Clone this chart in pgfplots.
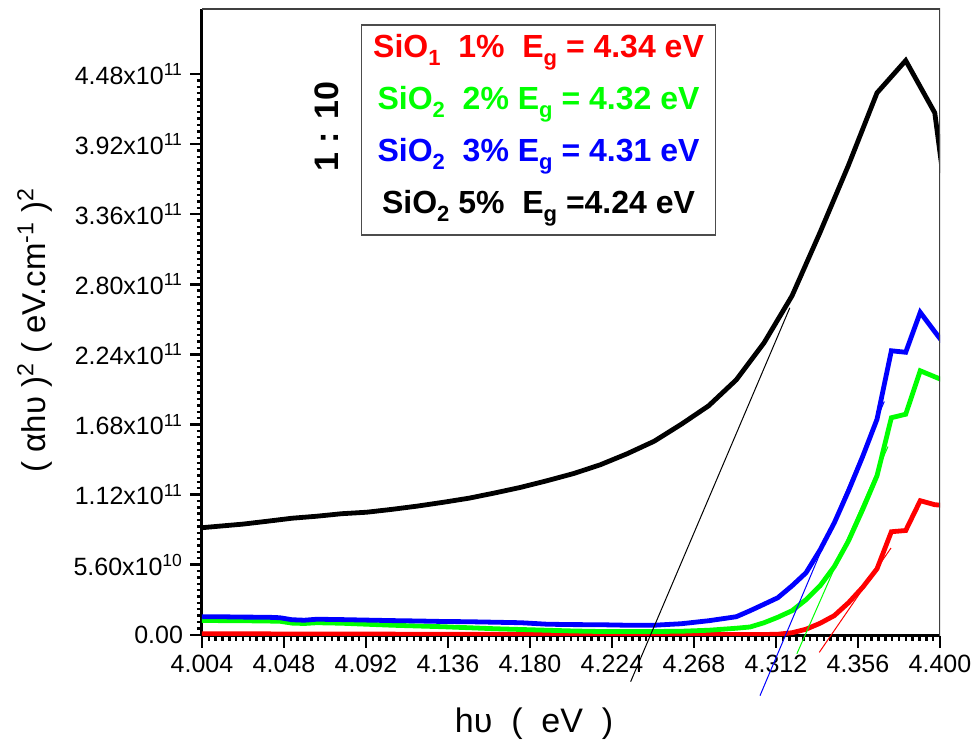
\documentclass[border=0pt]{standalone}
\usepackage{fontspec}
\setmainfont{Liberation Sans}
\usepackage{pgfplots}
\pgfplotsset{compat=1.18}
\definecolor{cred}{RGB}{255,0,0}
\definecolor{cgreen}{RGB}{0,255,0}
\definecolor{cblue}{RGB}{0,0,255}
\newcommand{\lsub}[1]{\raisebox{-0.45ex}{\fontsize{11}{11}\selectfont #1}}

\begin{document}
\begin{tikzpicture}
% page = 977x747 px at 0.5pt per px
\useasboundingbox (-101pt,-55.5pt) rectangle (387.5pt,318pt);
\begin{axis}[
    at={(0,0)}, anchor=south west,
    scale only axis, width=369pt, height=313.5pt,
    xmin=4.004, xmax=4.400, ymin=-1e9, ymax=5.0e11,
    axis lines=left, axis line style={-, line width=1.5pt},
    tick align=outside,
    major tick length=6pt, minor tick length=2.5pt,
    every tick/.style={black, line width=1.2pt},
    xtick={4.004,4.048,4.092,4.136,4.180,4.224,4.268,4.312,4.356,4.400},
    xticklabels={4.004,4.048,4.092,4.136,4.180,4.224,4.268,4.312,4.356,4.400},
    minor x tick num=11,
    ytick={0,5.6e10,1.12e11,1.68e11,2.24e11,2.80e11,3.36e11,3.92e11,4.48e11},
    yticklabels={0.00,5.60x10\textsuperscript{10},1.12x10\textsuperscript{11},
        1.68x10\textsuperscript{11},2.24x10\textsuperscript{11},2.80x10\textsuperscript{11},
        3.36x10\textsuperscript{11},3.92x10\textsuperscript{11},4.48x10\textsuperscript{11}},
    minor y tick num=10,
    scaled y ticks=false,
    tick label style={font=\fontsize{12.5}{14}\selectfont},
    xlabel={hυ\ \ (\ \ eV\ \ )},
    ylabel={(\ αhυ\ )\textsuperscript{2}\ (\ eV.cm\textsuperscript{-1}\ )\textsuperscript{2}},
    xlabel style={at={(axis description cs:0.45,-0.1404)}, anchor=center,
        font=\fontsize{17}{20}\selectfont},
    ylabel style={at={(axis description cs:-0.2263,0.488)}, anchor=center, rotate=0,
        font=\fontsize{16.5}{20}\selectfont},
]
% SiO2 5%
\addplot[black, line width=2.4pt] coordinates {
(4.0000,8.50e10) (4.0129,8.67e10) (4.0260,8.84e10) (4.0391,9.07e10) (4.0523,9.31e10)
(4.0656,9.47e10) (4.0789,9.67e10) (4.0924,9.79e10) (4.1060,10.02e10) (4.1196,10.28e10)
(4.1333,10.58e10) (4.1472,10.91e10) (4.1611,11.33e10) (4.1751,11.78e10) (4.1892,12.31e10)
(4.2034,12.88e10) (4.2177,13.58e10) (4.2321,14.46e10) (4.2466,15.46e10) (4.2612,16.82e10)
(4.2759,18.30e10) (4.2907,20.37e10) (4.3056,23.33e10) (4.3206,27.08e10) (4.3357,32.17e10)
(4.3509,37.52e10) (4.3662,43.30e10) (4.3816,45.88e10) (4.3972,41.70e10) (4.4050,32.80e10)
};
% SiO1 1%
\addplot[cred, line width=2.4pt] coordinates {
(4.0000,0.08e10) (4.0656,0.06e10) (4.1333,0.04e10) (4.2034,0.02e10) (4.2759,0.02e10)
(4.3056,0.02e10) (4.3130,0.04e10) (4.3206,0.16e10) (4.3281,0.44e10) (4.3357,0.92e10)
(4.3433,1.53e10) (4.3509,2.56e10) (4.3585,3.79e10) (4.3662,5.27e10) (4.3739,8.23e10)
(4.3816,8.33e10) (4.3894,10.71e10) (4.3972,10.39e10) (4.4050,10.30e10)
};
% SiO2 2%
\addplot[cgreen, line width=2.4pt] coordinates {
(4.0000,1.14e10) (4.0260,1.12e10) (4.0457,1.08e10) (4.0523,0.93e10) (4.0589,0.90e10)
(4.0656,0.96e10) (4.0789,0.92e10) (4.0924,0.84e10) (4.1060,0.76e10) (4.1196,0.70e10)
(4.1333,0.64e10) (4.1472,0.56e10) (4.1611,0.48e10) (4.1751,0.42e10) (4.1892,0.36e10)
(4.2034,0.30e10) (4.2177,0.26e10) (4.2321,0.26e10) (4.2466,0.26e10) (4.2612,0.28e10)
(4.2759,0.36e10) (4.2907,0.52e10) (4.2981,0.62e10) (4.3056,0.96e10) (4.3130,1.40e10)
(4.3206,1.92e10) (4.3281,2.80e10) (4.3357,3.92e10) (4.3433,5.45e10) (4.3509,7.50e10)
(4.3585,10.00e10) (4.3662,12.70e10) (4.3739,17.34e10) (4.3816,17.62e10) (4.3894,21.09e10)
(4.3972,20.61e10) (4.4050,20.13e10)
};
% SiO2 3%
\addplot[cblue, line width=2.4pt] coordinates {
(4.0000,1.44e10) (4.0129,1.44e10) (4.0260,1.41e10) (4.0391,1.40e10) (4.0457,1.36e10)
(4.0523,1.20e10) (4.0589,1.16e10) (4.0656,1.24e10) (4.0789,1.21e10) (4.0924,1.17e10)
(4.1060,1.13e10) (4.1196,1.10e10) (4.1333,1.06e10) (4.1472,1.04e10) (4.1611,1.00e10)
(4.1751,0.96e10) (4.1892,0.84e10) (4.2034,0.81e10) (4.2177,0.80e10) (4.2321,0.76e10)
(4.2466,0.76e10) (4.2612,0.88e10) (4.2759,1.12e10) (4.2907,1.44e10) (4.2981,1.92e10)
(4.3056,2.44e10) (4.3130,2.96e10) (4.3206,3.91e10) (4.3281,4.95e10) (4.3357,6.79e10)
(4.3433,8.95e10) (4.3509,11.50e10) (4.3585,14.24e10) (4.3662,17.22e10) (4.3739,22.69e10)
(4.3816,22.57e10) (4.3894,25.76e10) (4.3972,24.21e10) (4.4050,22.69e10)
};
% thin top and right frame
\draw[line width=0.6pt, black!75] (rel axis cs:0,1) -- (rel axis cs:1,1) -- (rel axis cs:1,0);
% legend box
\node[draw=black!70, line width=0.7pt, fill=white, minimum width=177pt, minimum height=105pt,
      align=center, font=\fontsize{16}{26}\selectfont\bfseries, inner sep=2pt]
  at (rel axis cs:0.456,0.807) {%
  \textcolor{cred}{SiO\lsub{1}\ \ 1\%\ \ E\lsub{g} = 4.34 eV}\\
  \textcolor{cgreen}{SiO\lsub{2}\ \ 2\% E\lsub{g} = 4.32 eV}\\
  \textcolor{cblue}{SiO\lsub{2}\ \ 3\% E\lsub{g} = 4.31 eV}\\
  \textcolor{black}{SiO\lsub{2} 5\%\ \ E\lsub{g} =4.24 eV}};
\node[rotate=90, font=\fontsize{17}{20}\selectfont\bfseries] at (rel axis cs:0.169,0.812) {1 : 10};
\end{axis}
% tangent lines, not clipped to the axis box
\begin{axis}[
    at={(0,0)}, anchor=south west,
    scale only axis, width=369pt, height=313.5pt,
    xmin=4.004, xmax=4.400, ymin=-1e9, ymax=5.0e11,
    hide axis, clip=false,
]
\addplot[black, line width=0.5pt] coordinates {(4.2340,-3.75e10) (4.3194,26.12e10)};
\addplot[cblue, line width=0.5pt] coordinates {(4.3034,-4.87e10) (4.3701,18.64e10)};
\addplot[cgreen, line width=0.5pt] coordinates {(4.3232,-1.52e10) (4.3721,15.04e10)};
\addplot[cred, line width=0.5pt] coordinates {(4.3352,-1.41e10) (4.3737,6.93e10)};
\end{axis}
\end{tikzpicture}
\end{document}
